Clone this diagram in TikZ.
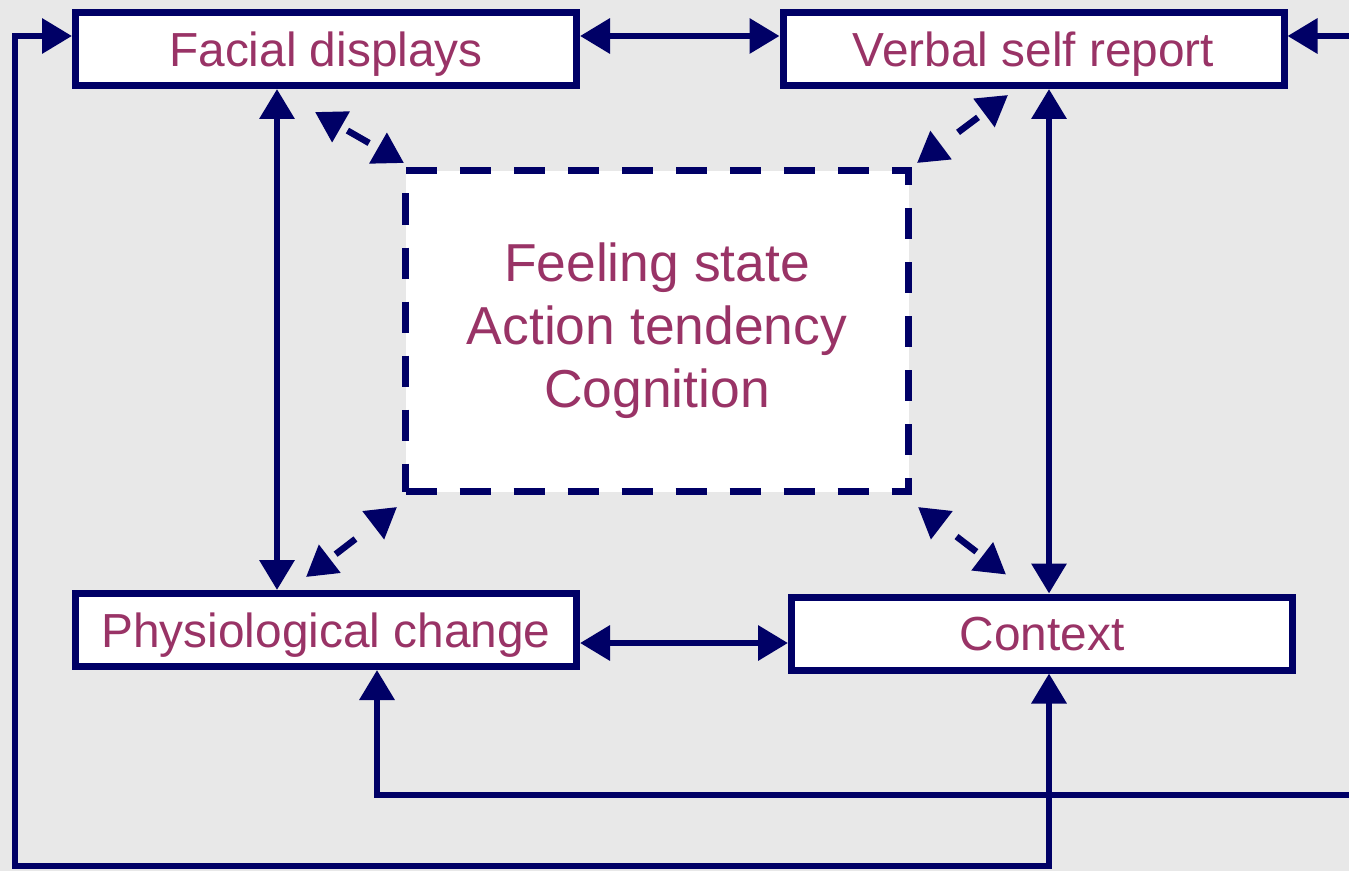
\documentclass[tikz,border=0pt]{standalone}
\usepackage{fontspec}
\setmainfont{Liberation Sans}
\usetikzlibrary{positioning,calc,arrows.meta}
\usepackage{xcolor}
\definecolor{linkblue}{RGB}{0,0,102}
\definecolor{labelplum}{RGB}{153,51,102}
\definecolor{paper}{RGB}{232,232,232}

\begin{document}
\begin{tikzpicture}[>={Triangle[length=3mm,width=3.4mm]},
	box/.style={draw=linkblue,fill=white,line width=0.7mm,minimum width=5.01cm,minimum height=0.73cm,inner sep=0pt,text=labelplum,text height=9.7pt,text depth=0pt,font=\fontsize{13.6}{16}\selectfont},
	corebox/.style={draw=linkblue,fill=white,line width=0.7mm,dash pattern=on 3.1mm off 2.3mm,minimum width=5.03cm,minimum height=3.21cm,inner sep=0pt,text=labelplum,align=center,font=\fontsize{15.2}{17.9}\selectfont},
	link/.style={draw=linkblue,line width=0.65mm},
	dlink/.style={link,dash pattern=on 2.5mm off 5mm,dash phase=6.6mm}]
	\useasboundingbox (0,0) rectangle (13.49,8.71);
	\fill[paper] (0,0) rectangle (13.49,8.71);

	% the four measures and the hidden state in the middle
	\node[box] (fd) at (3.26,8.22) {Facial displays};
	\node[box] (vsr) at (10.335,8.22) {Verbal self report};
	\node[box] (phy) at (3.26,2.41) {Physiological change};
	\node[box] (ctx) at (10.42,2.375) {Context};
	\node[corebox] (core) at (6.57,5.40) {Feeling state\\Action tendency\\Cognition};

	% free ends of the outer loops
	\coordinate (lb) at (0.15,0.05);
	\coordinate (rb) at (10.49,0.05);
	\coordinate (rt) at (13.49,8.35);
	\coordinate (rm) at (13.49,0.76);

	% solid links between the boxes
	\draw[link,<->] ([yshift=1.3mm]fd.east) -- ([yshift=1.3mm]vsr.west);
	\draw[link,<->] ([yshift=-1.3mm]phy.east) -- ([yshift=-1.3mm]phy.east -| ctx.west);
	\draw[link,<->] ([xshift=-4.9mm]fd.south) -- ([xshift=-4.9mm]phy.north);
	\draw[link,<->] (vsr.south -| rb) -- (ctx.north -| rb);

	% outer loops
	\draw[link,->] (rt) -- (vsr.east |- rt);
	\draw[link,<->] ([yshift=1.3mm]fd.west) -| (lb) -| (ctx.south -| rb);
	\draw[link,->] (rm) -| ([xshift=5.1mm]phy.south);

	% dashed links to the inner state
	\draw[dlink,<->] ([shift={(-0.11,-0.23)}]fd.south) -- ([shift={(0.02,0.04)}]core.north west);
	\draw[dlink,<->] ([shift={(-0.255,-0.06)}]vsr.south) -- ([shift={(0.05,0.04)}]core.north east);
	\draw[dlink,<->] ([shift={(-0.2,0.13)}]phy.north) -- ([shift={(-0.05,-0.12)}]core.south west);
	\draw[dlink,<->] ([shift={(-0.36,0.19)}]ctx.north) -- ([shift={(0.06,-0.12)}]core.south east);

\end{tikzpicture}
\end{document}
